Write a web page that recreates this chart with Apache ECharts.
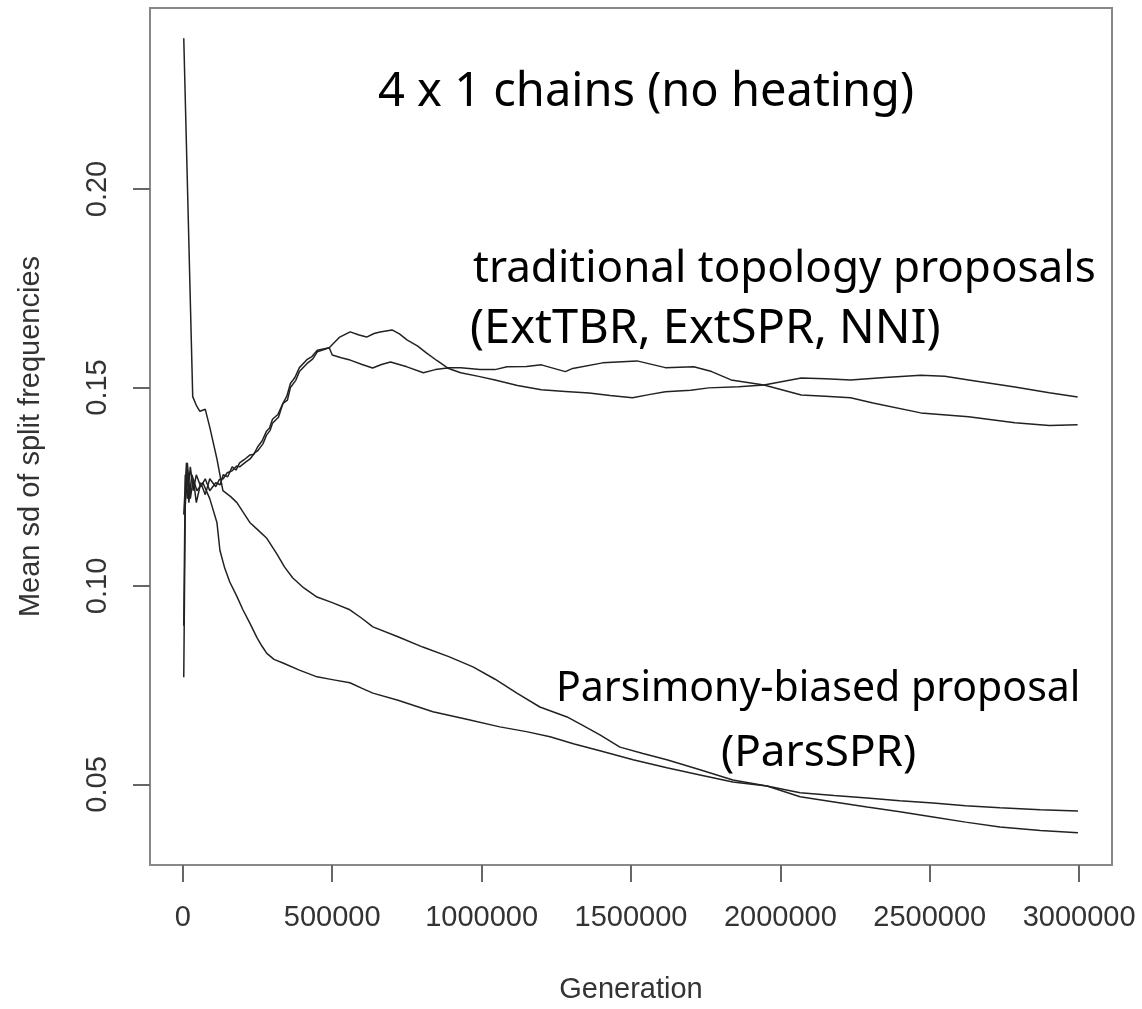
<!DOCTYPE html>
<html>
<head>
<meta charset="utf-8">
<script src="https://cdn.jsdelivr.net/npm/echarts@6/dist/echarts.min.js"></script>
<style>
  html, body { margin: 0; padding: 0; background: #fff; }
  #chart { width: 1142px; height: 1009px; }
</style>
</head>
<body>
<div id="chart"></div>
<script>
// tick positions
const xTicks = [0, 500000, 1000000, 1500000, 2000000, 2500000, 3000000];
const yTicks = [0.05, 0.10, 0.15, 0.20];

// traditional topology proposals, run 1 (higher peak, ends lower)
const trad1 = [
  [3000, 0.090], [8000, 0.128], [15000, 0.122], [25000, 0.130], [35000, 0.124],
  [45000, 0.128], [60000, 0.125], [75000, 0.127], [90000, 0.124], [110000, 0.126],
  [125000, 0.1255], [135000, 0.128], [150000, 0.1275], [165000, 0.130], [178000, 0.1292],
  [190000, 0.131], [205000, 0.1318], [225000, 0.133], [238000, 0.1332], [250000, 0.135],
  [265000, 0.1365], [280000, 0.139], [290000, 0.1398], [300000, 0.142], [318000, 0.1432],
  [335000, 0.146], [348000, 0.1478], [360000, 0.151], [375000, 0.1525], [390000, 0.155],
  [415000, 0.157], [432000, 0.1578], [450000, 0.1594], [490000, 0.160], [525000, 0.1627],
  [560000, 0.164], [590000, 0.1632], [615000, 0.1627], [640000, 0.1636], [660000, 0.164],
  [700000, 0.1645], [725000, 0.1635], [750000, 0.162], [785000, 0.1605], [815000, 0.1587],
  [850000, 0.1568], [885000, 0.155], [930000, 0.155], [995000, 0.1545], [1045000, 0.1545],
  [1085000, 0.1552], [1150000, 0.1553], [1200000, 0.1557], [1280000, 0.1540], [1305000, 0.1548],
  [1405000, 0.1562], [1520000, 0.1567], [1615000, 0.1550], [1710000, 0.1552], [1770000, 0.1540],
  [1835000, 0.1519], [1945000, 0.1506], [2070000, 0.1481], [2150000, 0.1478], [2235000, 0.1474],
  [2310000, 0.1461], [2470000, 0.1436], [2630000, 0.1426], [2785000, 0.1411], [2900000, 0.1404],
  [2995000, 0.1406]
];

// traditional topology proposals, run 2 (lower peak, ends higher)
const trad2 = [
  [3000, 0.077], [8000, 0.120], [15000, 0.131], [25000, 0.122], [35000, 0.127],
  [45000, 0.121], [60000, 0.126], [75000, 0.123], [90000, 0.127], [110000, 0.125],
  [122000, 0.1268], [135000, 0.127], [148000, 0.1285], [165000, 0.129], [180000, 0.1302],
  [190000, 0.130], [210000, 0.1312], [225000, 0.132], [240000, 0.1335], [250000, 0.134],
  [268000, 0.1358], [280000, 0.138], [292000, 0.1392], [300000, 0.141], [320000, 0.1425],
  [335000, 0.146], [350000, 0.1468], [360000, 0.150], [378000, 0.1518], [390000, 0.154],
  [415000, 0.156], [435000, 0.1572], [450000, 0.159], [490000, 0.160], [500000, 0.1582],
  [530000, 0.1575], [560000, 0.1569], [600000, 0.1558], [635000, 0.1549], [665000, 0.1558],
  [695000, 0.1564], [750000, 0.1552], [805000, 0.1537], [845000, 0.1545], [885000, 0.1549],
  [930000, 0.1537], [990000, 0.1528], [1045000, 0.1519], [1120000, 0.1505], [1200000, 0.1494],
  [1280000, 0.1490], [1360000, 0.1486], [1430000, 0.1480], [1505000, 0.1474], [1560000, 0.1482],
  [1615000, 0.1489], [1700000, 0.1493], [1760000, 0.1499], [1860000, 0.1502], [1945000, 0.1506],
  [2070000, 0.1524], [2150000, 0.1522], [2235000, 0.1519], [2350000, 0.1525], [2470000, 0.1531],
  [2550000, 0.1528], [2630000, 0.1519], [2785000, 0.1501], [2900000, 0.1487], [2995000, 0.1476]
];

// parsimony-biased proposal, run 1 (fast drop)
const pars1 = [
  [3000, 0.118], [12000, 0.131], [20000, 0.121], [30000, 0.128], [47000, 0.124],
  [67000, 0.126], [90000, 0.122], [114000, 0.116], [124000, 0.109], [140000, 0.1045],
  [157000, 0.101], [180000, 0.0975], [201000, 0.094], [225000, 0.0905], [248000, 0.087],
  [265000, 0.0848], [281000, 0.083], [305000, 0.0815], [335000, 0.0806], [390000, 0.0788],
  [449000, 0.0771], [500000, 0.0764], [559000, 0.0756], [600000, 0.0742], [636000, 0.073],
  [720000, 0.0712], [837000, 0.0683], [950000, 0.0664], [1061000, 0.0645], [1150000, 0.0633],
  [1229000, 0.062], [1310000, 0.0602], [1396000, 0.0585], [1507000, 0.0562], [1620000, 0.0542],
  [1731000, 0.0524], [1841000, 0.0506], [1955000, 0.0496], [2066000, 0.0479], [2180000, 0.0472],
  [2290000, 0.0466], [2400000, 0.0459], [2511000, 0.0453], [2620000, 0.0446], [2735000, 0.0441],
  [2870000, 0.0436], [2996000, 0.0433]
];

// parsimony-biased proposal, run 2 (starts at the spike, slow drop)
const pars2 = [
  [3000, 0.238], [33000, 0.1477], [45000, 0.1455], [57000, 0.144], [75000, 0.1445],
  [90000, 0.140], [114000, 0.132], [134000, 0.124], [160000, 0.1225], [181000, 0.121],
  [200000, 0.1188], [224000, 0.116], [250000, 0.1142], [281000, 0.112], [315000, 0.108],
  [340000, 0.1048], [368000, 0.102], [405000, 0.0995], [449000, 0.0972], [500000, 0.0958],
  [559000, 0.094], [600000, 0.0918], [636000, 0.0897], [720000, 0.0872], [803000, 0.0846],
  [890000, 0.0822], [971000, 0.0796], [1045000, 0.0765], [1118000, 0.073], [1195000, 0.0695],
  [1286000, 0.067], [1340000, 0.0648], [1396000, 0.0625], [1463000, 0.0594], [1540000, 0.0578],
  [1620000, 0.0562], [1731000, 0.0537], [1841000, 0.0511], [1955000, 0.0496], [2066000, 0.0469],
  [2180000, 0.0456], [2290000, 0.0443], [2400000, 0.0431], [2511000, 0.0418], [2620000, 0.0405],
  [2735000, 0.0393], [2870000, 0.0384], [2996000, 0.0378]
];

const chart = echarts.init(document.getElementById('chart'), null, { renderer: 'canvas' });

const axisFont = 'Liberation Sans, Arial, sans-serif';
const noteFont = '"Comic Sans MS", "Noto Sans", sans-serif';

function lineSeries(name, data) {
  return {
    name: name,
    type: 'line',
    data: data,
    showSymbol: false,
    silent: true,
    lineStyle: { color: '#222', width: 1.5 },
  };
}

function note(text, left, y, size) {
  return {
    type: 'text',
    left: left,
    top: y - size / 2,
    style: {
      text: text,
      fill: '#000',
      font: size + 'px ' + noteFont,
    },
  };
}

chart.setOption({
  animation: false,
  backgroundColor: '#fff',
  grid: {
    left: 150,
    right: 30,
    top: 8,
    bottom: 144,
    show: true,
    borderColor: '#888',
    borderWidth: 2,
    backgroundColor: 'transparent',
  },
  xAxis: {
    type: 'value',
    min: -110000,
    max: 3110000,
    name: 'Generation',
    nameLocation: 'middle',
    nameGap: 110,
    nameTextStyle: { fontFamily: axisFont, fontSize: 29, color: '#333' },
    axisLine: { show: true, onZero: false, lineStyle: { color: '#888', width: 2 } },
    splitLine: { show: false },
    axisTick: {
      show: true,
      length: 17,
      customValues: xTicks,
      lineStyle: { color: '#666', width: 2 },
    },
    axisLabel: {
      customValues: xTicks,
      margin: 38,
      fontFamily: axisFont,
      fontSize: 29,
      color: '#333',
      formatter: (v) => String(v),
    },
  },
  yAxis: {
    type: 'value',
    min: 0.0297,
    max: 0.2456,
    name: 'Mean sd of split frequencies',
    nameLocation: 'middle',
    nameRotate: 90,
    nameGap: 105,
    nameTextStyle: { fontFamily: axisFont, fontSize: 29, color: '#333' },
    axisLine: { show: true, onZero: false, lineStyle: { color: '#888', width: 2 } },
    splitLine: { show: false },
    axisTick: {
      show: true,
      inside: false,
      length: 17,
      customValues: yTicks,
      lineStyle: { color: '#666', width: 2 },
    },
    axisLabel: {
      customValues: yTicks,
      rotate: 90,
      margin: 38,
      fontFamily: axisFont,
      fontSize: 29,
      color: '#333',
      formatter: (v) => v.toFixed(2),
    },
  },
  series: [
    lineSeries('trad1', trad1),
    lineSeries('trad2', trad2),
    lineSeries('pars1', pars1),
    lineSeries('pars2', pars2),
  ],
  graphic: [
    note('4 x 1 chains (no heating)', 378, 93, 47),
    note('traditional topology proposals', 473, 269, 44),
    note('(ExtTBR, ExtSPR, NNI)', 470, 330, 47),
    note('Parsimony-biased proposal', 556, 689, 41),
    note('(ParsSPR)', 721, 753, 44),
  ],
});
</script>
</body>
</html>
